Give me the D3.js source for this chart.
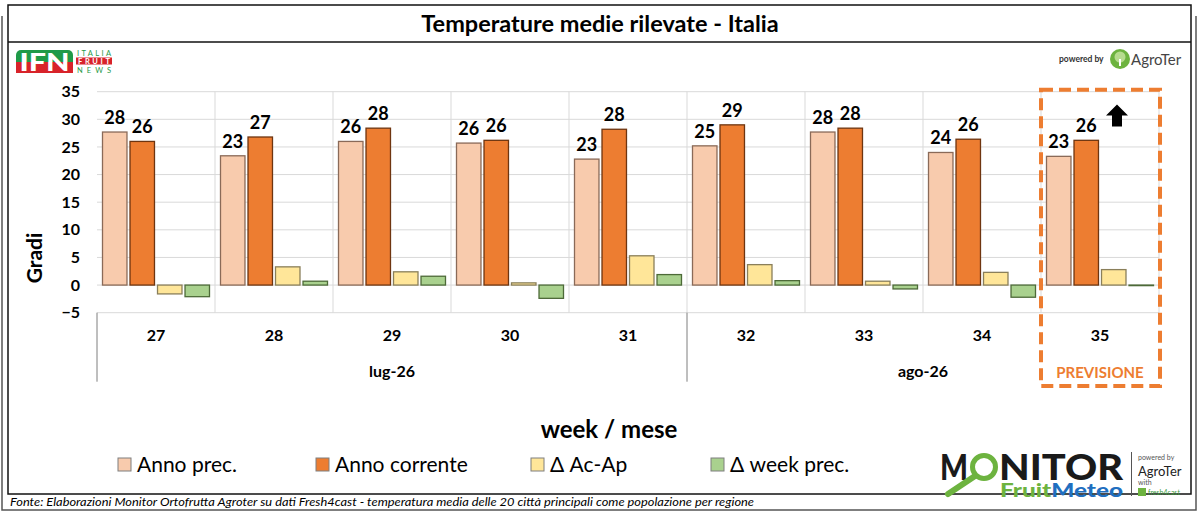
<!DOCTYPE html>
<html>
<head>
<meta charset="utf-8">
<script src="https://cdn.jsdelivr.net/npm/d3@7"></script>
<style>
  body { margin: 0; background: #fff; }
  svg { font-family: Lato, "Open Sans", sans-serif; }
</style>
</head>
<body>
<svg id="chart" width="1200" height="517"></svg>
<script>
// values
const weeks = ["27", "28", "29", "30", "31", "32", "33", "34", "35"];
const months = ["lug-26", "ago-26"];
const monthFirstWeek = ["27", "32"];
const monthLastWeek = ["31", "35"];
const yTicks = [-5, 0, 5, 10, 15, 20, 25, 30, 35];

const annoPrec = [27.7, 23.4, 26.0, 25.7, 22.8, 25.2, 27.7, 24.0, 23.3];
const annoCorrente = [26.0, 26.8, 28.4, 26.2, 28.2, 29.0, 28.4, 26.4, 26.2];
const deltaAcAp = [-1.6, 3.3, 2.4, 0.4, 5.3, 3.7, 0.7, 2.3, 2.8];
const deltaWeek = [-2.1, 0.7, 1.6, -2.4, 1.9, 0.8, -0.7, -2.2, -0.1];

const seriesNames = ["Anno prec.", "Anno corrente", "\u0394 Ac-Ap", "\u0394 week prec."];
const seriesFill = ["#F8CBAD", "#ED7D31", "#FFE699", "#A9D18E"];
const seriesStroke = ["#8a6a58", "#6e3510", "#8a7f5a", "#4d6a38"];
const forecastWeek = "35";

const svg = d3.select("#chart");

// frames
svg.append("path")
  .attr("d", "M2,16 V510 H1196 V16")
  .attr("fill", "none").attr("stroke", "#555").attr("stroke-width", 1.5);
svg.append("rect")
  .attr("x", 8).attr("y", 5).attr("width", 1183).attr("height", 489)
  .attr("fill", "#fff").attr("stroke", "#111").attr("stroke-width", 1.5);
svg.append("line")
  .attr("x1", 8).attr("x2", 1191).attr("y1", 42).attr("y2", 42)
  .attr("stroke", "#111").attr("stroke-width", 1.5);

svg.append("text")
  .attr("x", 600).attr("y", 32)
  .attr("text-anchor", "middle")
  .attr("font-size", 23.5).attr("font-weight", "bold")
  .text("Temperature medie rilevate - Italia");

// scales
const x0 = d3.scaleBand().domain(weeks).range([97, 1159]);
const x1 = d3.scaleBand().domain(seriesNames)
  .range([5.5, x0.bandwidth() - 5.5]).paddingInner(0.11);
const y = d3.scaleLinear().domain([-5, 35]).range([312.7, 91.7]);

// gridlines
svg.append("g")
  .selectAll("line")
  .data(yTicks)
  .join("line")
  .attr("x1", x0.range()[0]).attr("x2", x0.range()[1])
  .attr("y1", d => y(d)).attr("y2", d => y(d))
  .attr("stroke", "#d9d9d9").attr("stroke-width", 1);

svg.append("g")
  .selectAll("line")
  .data(weeks.slice(1).concat(["end"]))
  .join("line")
  .attr("x1", d => d == "end" ? x0.range()[1] : x0(d))
  .attr("x2", d => d == "end" ? x0.range()[1] : x0(d))
  .attr("y1", y(35)).attr("y2", y(-5))
  .attr("stroke", "#d9d9d9").attr("stroke-width", 1);

// y axis
const yAxis = d3.axisLeft(y).tickValues(yTicks).tickSize(0).tickPadding(0);
svg.append("g")
  .attr("transform", "translate(80,0)")
  .call(yAxis)
  .call(g => g.select(".domain").remove())
  .selectAll("text")
  .attr("font-family", "Lato, sans-serif")
  .attr("font-size", 16).attr("font-weight", "bold").attr("fill", "#000");

svg.append("text")
  .attr("transform", "translate(42,258) rotate(-90)")
  .attr("text-anchor", "middle")
  .attr("font-size", 21).attr("font-weight", "bold")
  .text("Gradi");

// category axis (two levels)
const xAxis = d3.axisBottom(x0).tickSize(0).tickPadding(0);
svg.append("g")
  .attr("transform", `translate(0,${y(-5) + 17})`)
  .call(xAxis)
  .call(g => g.select(".domain").remove())
  .selectAll("text")
  .attr("font-family", "Lato, sans-serif")
  .attr("font-size", 16).attr("font-weight", "bold").attr("fill", "#000");

const monthBounds = months.map((m, i) => ({
  label: m,
  x1: x0(monthFirstWeek[i]),
  x2: x0(monthLastWeek[i]) + x0.bandwidth()
}));

svg.append("g")
  .selectAll("line")
  .data([monthBounds[0].x1, monthBounds[1].x1])
  .join("line")
  .attr("x1", d => d).attr("x2", d => d)
  .attr("y1", y(-5)).attr("y2", y(-5) + 69)
  .attr("stroke", "#7f7f7f").attr("stroke-width", 1);

svg.append("g")
  .selectAll("text")
  .data(monthBounds)
  .join("text")
  .attr("x", d => (d.x1 + d.x2) / 2)
  .attr("y", y(-5) + 64)
  .attr("text-anchor", "middle")
  .attr("font-size", 16).attr("font-weight", "bold")
  .text(d => d.label);

svg.append("text")
  .attr("x", 609).attr("y", 438)
  .attr("text-anchor", "middle")
  .attr("font-size", 24).attr("font-weight", "bold")
  .text("week / mese");

// bars
const allSeries = [annoPrec, annoCorrente, deltaAcAp, deltaWeek];
const barData = [];
weeks.forEach((w, i) => {
  allSeries.forEach((s, k) => {
    barData.push({ week: w, k: k, name: seriesNames[k], value: s[i] });
  });
});

svg.append("g")
  .selectAll("rect")
  .data(barData)
  .join("rect")
  .attr("x", d => x0(d.week) + x1(d.name))
  .attr("width", x1.bandwidth())
  .attr("y", d => y(Math.max(0, d.value)))
  .attr("height", d => Math.abs(y(d.value) - y(0)))
  .attr("fill", d => seriesFill[d.k])
  .attr("stroke", d => seriesStroke[d.k])
  .attr("stroke-width", 1.3);

// value labels on the two temperature series
svg.append("g")
  .selectAll("text")
  .data(barData.filter(d => d.k < 2))
  .join("text")
  .attr("x", d => x0(d.week) + x1(d.name) + x1.bandwidth() / 2)
  .attr("y", d => y(d.value) - 8)
  .attr("text-anchor", "middle")
  .attr("font-size", 18).attr("font-weight", "bold")
  .text(d => Math.round(d.value));

// forecast box
const fx = x0(forecastWeek);
svg.append("rect")
  .attr("x", fx).attr("y", y(35) - 2)
  .attr("width", x0.bandwidth() + 1).attr("height", 386 - (y(35) - 2))
  .attr("fill", "none")
  .attr("stroke", "#ED7D31").attr("stroke-width", 4)
  .attr("stroke-dasharray", "12,6");

svg.append("text")
  .attr("x", fx + x0.bandwidth() / 2).attr("y", 378)
  .attr("text-anchor", "middle")
  .attr("font-size", 15).attr("font-weight", "bold")
  .attr("fill", "#ED7D31")
  .text("PREVISIONE");

// black up arrow
const ax = fx + 76, ay = y(32.7);
svg.append("path")
  .attr("d", `M${ax},${ay} l11,11 h-6 v11 h-10 v-11 h-6 z`)
  .attr("fill", "#000");

// legend
const legendX = [118, 316, 531, 711];
const legend = svg.append("g")
  .selectAll("g")
  .data(seriesNames)
  .join("g")
  .attr("transform", (d, i) => `translate(${legendX[i]},458)`);
legend.append("rect")
  .attr("width", 13).attr("height", 13)
  .attr("fill", (d, i) => seriesFill[i])
  .attr("stroke", "#7f7f7f").attr("stroke-width", 1);
legend.append("text")
  .attr("x", 19).attr("y", 14)
  .attr("font-size", 21)
  .text(d => d);

// source
svg.append("text")
  .attr("x", 10).attr("y", 506)
  .attr("font-size", 12).attr("font-style", "italic")
  .attr("textLength", 744).attr("lengthAdjust", "spacingAndGlyphs")
  .text("Fonte: Elaborazioni Monitor Ortofrutta Agroter su dati Fresh4cast - temperatura media delle 20 citt\u00e0 principali come popolazione per regione");

// IFN logo
const ifn = svg.append("g");
ifn.append("rect").attr("x", 16).attr("y", 50).attr("width", 57).attr("height", 23)
  .attr("rx", 5).attr("fill", "#1f9a48");
ifn.append("rect").attr("x", 16).attr("y", 62).attr("width", 57).attr("height", 11)
  .attr("fill", "#d8232a");
ifn.append("text").attr("x", 44.5).attr("y", 71).attr("text-anchor", "middle")
  .attr("font-size", 24).attr("font-weight", 900).attr("fill", "#fff")
  .attr("textLength", 50).attr("lengthAdjust", "spacingAndGlyphs").text("IFN");
ifn.append("text").attr("x", 77).attr("y", 56).attr("font-size", 7.5)
  .attr("fill", "#1f9a48").attr("textLength", 34).text("ITALIA");
ifn.append("rect").attr("x", 76).attr("y", 57.5).attr("width", 36).attr("height", 7)
  .attr("fill", "#d8232a");
ifn.append("text").attr("x", 78).attr("y", 64).attr("font-size", 7.5).attr("font-weight", "bold")
  .attr("fill", "#fff").attr("textLength", 32).text("FRUIT");
ifn.append("text").attr("x", 77).attr("y", 73).attr("font-size", 7.5)
  .attr("fill", "#1f9a48").attr("textLength", 34).text("NEWS");

// powered by AgroTer (top right)
svg.append("text").attr("x", 1059).attr("y", 62).attr("font-size", 8.5)
  .attr("font-weight", "bold").attr("fill", "#333").text("powered by");
svg.append("circle").attr("cx", 1120).attr("cy", 59).attr("r", 10).attr("fill", "#6db33f");
svg.append("circle").attr("cx", 1120).attr("cy", 57).attr("r", 5.5).attr("fill", "#b7dc8f");
svg.append("rect").attr("x", 1119).attr("y", 59).attr("width", 2).attr("height", 7).attr("fill", "#fff");
svg.append("text").attr("x", 1131).attr("y", 65).attr("font-size", 15)
  .attr("fill", "#444").text("AgroTer");

// MONITOR FruitMeteo logo (bottom right)
const mon = svg.append("g");
mon.append("text").attr("x", 940).attr("y", 480).attr("font-size", 36).attr("font-weight", 900)
  .attr("fill", "#1a1a1a").attr("textLength", 28).attr("lengthAdjust", "spacingAndGlyphs").text("M");
mon.append("circle").attr("cx", 984).attr("cy", 467).attr("r", 11.5)
  .attr("fill", "none").attr("stroke", "#6db33f").attr("stroke-width", 5);
mon.append("line").attr("x1", 975).attr("y1", 476).attr("x2", 948).attr("y2", 494)
  .attr("stroke", "#6db33f").attr("stroke-width", 6).attr("stroke-linecap", "round");
mon.append("text").attr("x", 999).attr("y", 480).attr("font-size", 36).attr("font-weight", 900)
  .attr("fill", "#1a1a1a").attr("textLength", 124).attr("lengthAdjust", "spacingAndGlyphs").text("NITOR");
const fm = mon.append("text").attr("x", 1000).attr("y", 497).attr("font-size", 19).attr("font-weight", 900)
  .attr("textLength", 123).attr("lengthAdjust", "spacingAndGlyphs");
fm.append("tspan").attr("fill", "#6db33f").text("Fruit");
fm.append("tspan").attr("fill", "#1f6fc0").text("Meteo");
mon.append("line").attr("x1", 1131.5).attr("x2", 1131.5).attr("y1", 452).attr("y2", 496)
  .attr("stroke", "#555").attr("stroke-width", 1);
mon.append("text").attr("x", 1138).attr("y", 460).attr("font-size", 7).attr("fill", "#555").text("powered by");
mon.append("text").attr("x", 1138).attr("y", 476).attr("font-size", 13).attr("fill", "#222").text("AgroTer");
mon.append("text").attr("x", 1138).attr("y", 485).attr("font-size", 7).attr("fill", "#555").text("with");
mon.append("rect").attr("x", 1138).attr("y", 488).attr("width", 8).attr("height", 8).attr("fill", "#6db33f");
mon.append("text").attr("x", 1148).attr("y", 495).attr("font-size", 7).attr("fill", "#3a9a3a").text("fresh4cast");
</script>
</body>
</html>
